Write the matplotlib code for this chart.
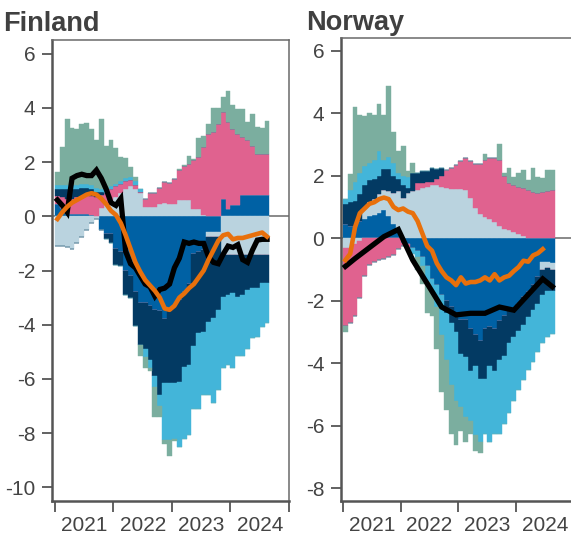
import matplotlib
matplotlib.use("Agg")
import matplotlib.pyplot as plt
import numpy as np

plt.rcParams['font.family'] = ['Liberation Sans', 'DejaVu Sans']
plt.rcParams['axes.unicode_minus'] = False

# monthly contributions, Jan 2021 .. Aug 2024 (44 months)
year_labels = ['2021', '2022', '2023', '2024']

fi_mb = [0.45, 0.3, 0.1, 0.1, 0.1, 0.1, 0.1, 0.05, 0.0, -0.5, -0.65, -0.65,
         -1.2, -1.3, -2.0, -2.2, -2.8, -3.2, -3.2, -3.3, -3.45, -3.5, -3.8, -3.5,
         -3.3, -3.1, -2.8, -2.5, -1.4, -1.3, -1.25, -0.58, -0.58, -0.58, 0.65, 0.28,
         0.4, 0.4, 0.77, 0.77, 0.77, 0.77, 0.77, 0.77]
fi_gb = [-1.1, -1.1, -1.15, -1.2, -1.0, -0.75, -0.5, -0.25, -0.1, 0.3, 0.4, 0.55,
         0.7, 0.85, 1.0, 1.1, 1.0, 0.85, 0.35, 0.35, 0.35, 0.45, 0.5, 0.47,
         0.47, 0.59, 0.59, 0.59, 0.28, 0.28, 0.04, -0.18, -0.18, -0.18, -1.43, -1.43,
         -1.43, -1.43, -1.43, -1.43, -1.43, -1.43, -1.43, -1.43]
fi_pk = [0.3, 0.4, 0.55, 0.55, 0.6, 0.65, 0.7, 0.7, 0.7, 0.5, 0.45, 0.45,
         0.4, 0.35, 0.3, 0.25, 0.15, 0.05, 0.3, 0.5, 0.5, 0.6, 0.75, 0.76,
         0.91, 1.1, 1.28, 1.35, 1.78, 1.9, 2.51, 3.04, 3.1, 3.4, 3.19, 3.19,
         2.82, 2.64, 2.15, 2.03, 1.83, 1.53, 1.53, 1.53]
fi_nv = [0.25, 0.3, 0.35, 0.35, 0.3, 0.3, 0.25, 0.25, 0.2, 0.1, -0.2, -0.35,
         -0.6, -0.55, -0.9, -0.8, -1.25, -1.55, -1.7, -2.0, -2.45, -3.1, -2.35, -2.65,
         -2.85, -3.0, -2.75, -2.98, -3.4, -3.0, -3.0, -3.14, -3.0, -2.7, -1.54, -1.47,
         -1.41, -1.54, -1.47, -1.29, -1.23, -1.23, -1.02, -1.02]
fi_lb = [0.15, 0.15, 0.15, 0.15, 0.15, 0.15, 0.15, 0.15, 0.15, 0.1, 0.1, 0.1,
         0.1, 0.1, 0.1, 0.1, 0.15, 0.1, -0.3, -0.3, -0.4, -0.4, -2.1, -2.1,
         -2.05, -2.4, -2.65, -2.57, -2.3, -2.8, -2.35, -2.7, -3.14, -2.94, -2.63, -2.6,
         -2.76, -2.18, -2.25, -2.18, -1.84, -1.79, -1.62, -1.5]
fi_tl = [0.5, 1.4, 2.45, 2.1, 2.05, 2.2, 2.25, 2.05, 1.75, 2.6, 1.65, 1.7,
         1.3, 0.9, 0.75, 0.35, 0.15, -0.4, -0.4, -0.1, -1.1, -0.4, -0.15, -0.6,
         -0.1, 0.06, 0.03, 0.3, 0.04, 0.72, 0.4, 0.36, 0.9, 0.6, 0.56, 1.16,
         0.88, 0.92, 1.04, 0.67, 1.17, 1.0, 0.95, 1.23]
fi_orange = [-0.1, 0.15, 0.35, 0.5, 0.6, 0.7, 0.8, 0.85, 0.8, 0.65, 0.45, 0.2,
             0.05, -0.25, -0.7, -1.2, -1.7, -2.05, -2.35, -2.55, -2.75, -3.0, -3.4, -3.45,
             -3.3, -3.0, -2.85, -2.65, -2.5, -2.25, -2.0, -1.6, -1.25, -0.9, -0.7, -0.65,
             -0.85, -0.8, -0.8, -0.75, -0.7, -0.65, -0.6, -0.75]
fi_black = [0.6, 0.4, 0.15, 1.4, 1.5, 1.55, 1.5, 1.5, 1.7, 1.4, 1.0, 0.5,
            0.4, 0.65, -1.3, -1.75, -1.9, -2.2, -2.5, -2.6, -2.95, -2.7, -2.65, -2.5,
            -1.9, -1.55, -0.95, -1.0, -0.95, -1.0, -1.0, -1.5, -1.7, -1.75, -1.4, -1.1,
            -1.15, -1.05, -1.6, -1.7, -1.25, -0.88, -0.85, -0.85]

no_mb = [0.45, 0.4, 0.4, 0.55, 0.6, 0.7, 0.75, 0.8, 0.9, 0.7, 0.45, 0.3,
         -0.15, -0.2, -0.3, -0.4, -0.6, -0.9, -1.3, -1.5, -1.8, -2.0, -2.2, -2.4,
         -2.6, -2.6, -2.9, -3.1, -3.3, -2.9, -2.85, -2.9, -2.65, -2.5, -2.25, -2.25,
         -2.1, -1.88, -1.72, -1.5, -1.24, -0.75, -0.75, -0.8]
no_gb = [-0.3, -0.3, -0.2, -0.1, 0.35, 0.45, 0.5, 0.6, 0.65, 0.8, 1.0, 1.2,
         1.3, 1.45, 1.5, 1.55, 1.6, 1.65, 1.7, 1.7, 1.65, 1.6, 1.58, 1.57,
         1.56, 1.55, 1.27, 0.95, 0.77, 0.68, 0.63, 0.52, 0.38, 0.31, 0.26, 0.2,
         0.15, 0.07, 0.0, 0.0, 0.0, -0.25, -0.2, -0.2]
no_pk = [-2.5, -2.4, -2.3, -1.8, -1.2, -0.85, -0.75, -0.7, -0.65, -0.6, -0.55, -0.35,
         -0.1, -0.1, 0.0, 0.2, 0.15, 0.15, 0.1, 0.2, 0.35, 0.58, 0.68, 0.77,
         0.91, 1.03, 1.2, 1.41, 1.61, 1.82, 1.92, 2.06, 2.12, 1.67, 1.49, 1.5,
         1.49, 1.52, 1.54, 1.48, 1.43, 1.48, 1.5, 1.54]
no_nv = [0.65, 0.75, 0.8, 0.85, 0.75, 0.7, 0.65, 0.6, 0.65, 0.7, 0.55, 0.4,
         0.4, 0.15, 0.6, 0.35, 0.4, 0.35, 0.45, 0.3, 0.25, -0.4, -0.5, -0.6,
         -1.1, -1.2, -1.35, -1.0, -1.2, -1.6, -1.25, -1.35, -1.25, -1.25, -1.1, -0.9,
         -0.85, -0.9, -0.8, -0.8, -0.85, -0.8, -0.75, -0.7]
no_lb = [0.15, 0.4, 0.6, 0.7, 0.6, 0.55, 0.6, 0.8, 0.3, 0.4, 0.4, 0.2,
         0.3, 0.35, -0.2, -0.2, -0.3, -0.5, -0.4, -0.7, -1.3, -1.5, -2.0, -2.2,
         -1.7, -1.9, -1.6, -2.2, -2.0, -1.75, -2.4, -2.0, -2.35, -2.2, -2.25, -2.05,
         -1.9, -1.75, -1.7, -1.65, -1.55, -1.55, -1.45, -1.35]
no_tl = [-0.2, 0.5, 2.4, 1.85, 1.6, 1.6, 1.45, 1.5, 1.45, 2.25, 1.0, 0.7,
         0.95, 0.2, 0.3, -0.4, -0.55, -1.0, -0.8, -1.35, -1.8, -1.6, -1.55, -1.4,
         -0.75, -0.8, -0.4, -0.5, -0.35, 0.19, 0.0, 0.0, 0.5, 0.1, 0.48, 0.26,
         0.43, 0.59, 0.32, 0.78, 0.53, 0.45, 0.68, 0.64]
no_orange = [-0.7, -0.5, 0.35, 0.8, 0.95, 1.1, 1.15, 1.25, 1.3, 1.25, 1.0, 0.9,
             0.95, 0.85, 0.8, 0.55, 0.15, -0.25, -0.4, -0.8, -1.05, -1.25, -1.35, -1.5,
             -1.25, -1.45, -1.4, -1.4, -1.35, -1.25, -1.35, -1.15, -1.35, -1.25, -1.2, -1.05,
             -0.92, -0.72, -0.75, -0.55, -0.48, -0.35, np.nan, np.nan]
no_black_month = [0, 2, 5, 8, 11, 14, 17, 20, 23, 26, 29, 32, 35, 38, 41, 43]
no_black = [-0.9, -0.65, -0.3, 0.05, 0.28, -0.7, -1.45, -2.2, -2.45, -2.4, -2.4,
            -2.2, -2.3, -1.8, -1.3, -1.55]

colors = ['#0061a4', '#bad3df', '#e0628f', '#033a63', '#43b5d9', '#7bae9f']


def draw(ax, series, orange, bx, by, ylim, yticks, left):
    x = np.arange(len(series[0])) + 0.5
    pos = np.zeros(len(x))
    neg = np.zeros(len(x))
    for vals, col in zip(series, colors):
        v = np.array(vals, dtype=float)
        p = np.where(v > 0, v, 0)
        n = np.where(v < 0, v, 0)
        ax.bar(x, p, width=1.0, bottom=pos, color=col, edgecolor=col, linewidth=0.3)
        ax.bar(x, n, width=1.0, bottom=neg, color=col, edgecolor=col, linewidth=0.3)
        pos += p
        neg += n
    ax.axhline(0, color='#808080', lw=1.3, zorder=0.5)
    ax.plot(np.array(bx) + 0.5, by, color='black', lw=3.8, zorder=4, solid_joinstyle='miter')
    ax.plot(x, orange, color='#e8700c', lw=3.3, zorder=5)

    ax.set_xlim(left, 48)
    ax.set_ylim(*ylim)
    ax.set_yticks(yticks)
    ax.set_xticks([0, 12, 24, 36, 48])
    ax.set_xticklabels([])
    ax.set_xticks([6, 18, 30, 42], minor=True)
    ax.set_xticklabels(year_labels, minor=True)
    ax.tick_params(axis='y', length=7, width=1.3, color='#555555', pad=5,
                   labelsize=15, labelcolor='#444444')
    ax.tick_params(axis='x', which='major', length=8, width=1.3, color='#555555')
    ax.tick_params(axis='x', which='minor', length=0, pad=11,
                   labelsize=15, labelcolor='#444444')
    for s in ['left', 'bottom']:
        ax.spines[s].set_color('#555555')
        ax.spines[s].set_linewidth(1.8)
    for s in ['top', 'right']:
        ax.spines[s].set_color('#6a6a6a')
        ax.spines[s].set_linewidth(1.1)


fig = plt.figure(figsize=(5.71, 5.42), dpi=100)
ax1 = fig.add_axes([52 / 571, 41 / 542, 237 / 571, 461 / 542])
ax2 = fig.add_axes([341 / 571, 41 / 542, 233 / 571, 463 / 542])

draw(ax1, [fi_mb, fi_gb, fi_pk, fi_nv, fi_lb, fi_tl], fi_orange,
     list(range(44)), fi_black, (-10.5, 6.5), range(-10, 7, 2), -0.61)
draw(ax2, [no_mb, no_gb, no_pk, no_nv, no_lb, no_tl], no_orange,
     no_black_month, no_black, (-8.4, 6.4), range(-8, 7, 2), -0.41)

fig.text(3 / 571, 1 - 31 / 542, 'Finland', fontsize=19.5, fontweight='bold',
         color='#404040', va='baseline')
fig.text(306 / 571, 1 - 30 / 542, 'Norway', fontsize=19.5, fontweight='bold',
         color='#404040', va='baseline')

fig.savefig('out.png', dpi=100)
